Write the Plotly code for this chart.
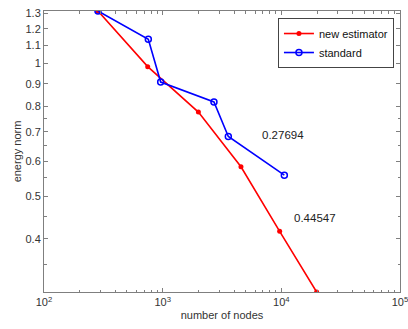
import math
import plotly.graph_objects as go

# Data (log-log)
new_nodes = [285, 748, 2000, 4570, 9680, 19830]
new_energy = [1.316, 0.984, 0.776, 0.583, 0.416, 0.303]
std_nodes = [285, 757, 962, 2705, 3575, 10600]
std_energy = [1.316, 1.135, 0.908, 0.818, 0.683, 0.558]
rate_labels = ["0.27694", "0.44547"]
rate_x = [6650, 12200]
rate_y = [0.690, 0.445]

y_ticks = [0.4, 0.5, 0.6, 0.7, 0.8, 0.9, 1, 1.1, 1.2, 1.3]
y_tick_text = ["0.4", "0.5", "0.6", "0.7", "0.8", "0.9", "1", "1.1", "1.2", "1.3"]
y_minor = [0.35, 0.45, 0.55, 0.65, 0.75]
x_ticks = [100, 1000, 10000, 100000]
x_tick_text = ["10<sup>2</sup>", "10<sup>3</sup>", "10<sup>4</sup>", "10<sup>5</sup>"]

FONT = "Liberation Sans, Arial, Helvetica, sans-serif"
AX = "#7f7f7f"

fig = go.Figure()
fig.add_trace(go.Scatter(
    x=new_nodes, y=new_energy, name="new estimator", mode="lines+markers",
    line=dict(color="#ff0000", width=1.6),
    marker=dict(symbol="circle", size=5, color="#ff0000"),
))
fig.add_trace(go.Scatter(
    x=std_nodes, y=std_energy, name="standard", mode="lines+markers",
    line=dict(color="#0000ff", width=1.6),
    marker=dict(symbol="circle-open", size=6, color="#0000ff", line=dict(width=1.5)),
))

for t, xv, yv in zip(rate_labels, rate_x, rate_y):
    fig.add_annotation(x=math.log10(xv), y=math.log10(yv), xref="x", yref="y", text=t,
                       showarrow=False, xanchor="left", yanchor="middle",
                       font=dict(family=FONT, size=11.5, color="#222222"))

axis_common = dict(
    showgrid=False, zeroline=False, showline=True, linecolor=AX, linewidth=1,
    mirror="allticks", ticks="inside", tickcolor=AX, ticklen=4, tickwidth=1,
    tickfont=dict(family=FONT, size=11, color="#333333"), automargin=False,
    ticklabeloverflow="allow",
)

fig.update_xaxes(
    type="log", range=[1.99995, 5.00005], tickvals=x_ticks, ticktext=x_tick_text,
    title=dict(text="number of nodes", font=dict(family=FONT, size=11, color="#333333"), standoff=4),
    minor=dict(ticks="inside", ticklen=2.5, tickcolor=AX, dtick="D1"),
    **axis_common,
)
fig.update_yaxes(
    type="log", range=[-0.5186, 0.1193], tickvals=y_ticks, ticktext=y_tick_text,
    title=dict(text="energy norm", font=dict(family=FONT, size=11, color="#333333"), standoff=1),
    minor=dict(ticks="inside", ticklen=2.5, tickcolor=AX, tickvals=y_minor),
    **axis_common,
)

fig.update_layout(
    width=408, height=329,
    margin=dict(l=44, r=8, t=11, b=37),
    paper_bgcolor="white", plot_bgcolor="white",
    showlegend=True,
    legend=dict(
        x=0.983, y=0.975, xanchor="right", yanchor="top",
        bgcolor="white", bordercolor="#444444", borderwidth=1,
        font=dict(family=FONT, size=11, color="#111111"),
        tracegroupgap=0, itemwidth=30,
    ),
)

fig.write_html(
    "out.html",
    config={"displayModeBar": False},
    post_script="document.body.style.margin='0';document.body.style.overflow='hidden';",
)
